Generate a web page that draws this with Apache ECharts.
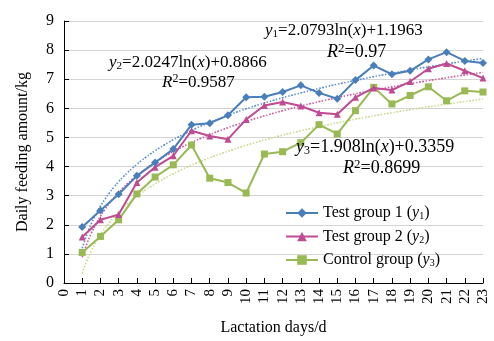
<!DOCTYPE html>
<html>
<head>
<meta charset="utf-8">
<script src="https://cdn.jsdelivr.net/npm/echarts@6/dist/echarts.min.js"></script>
<style>
  html, body { margin: 0; padding: 0; background: #fff; }
  #chart { width: 494px; height: 341px; }
</style>
</head>
<body>
<div id="chart"></div>
<script>
// lactation days 1..23
const days = [1, 2, 3, 4, 5, 6, 7, 8, 9, 10, 11, 12, 13, 14, 15, 16, 17, 18, 19, 20, 21, 22, 23];
const testGroup1 = [1.92, 2.49, 3.05, 3.68, 4.14, 4.6, 5.44, 5.49, 5.76, 6.38, 6.4, 6.56, 6.79, 6.53, 6.33, 6.97, 7.47, 7.17, 7.29, 7.68, 7.93, 7.63, 7.56];
const testGroup2 = [1.58, 2.17, 2.35, 3.45, 3.98, 4.37, 5.23, 5.05, 4.94, 5.62, 6.1, 6.22, 6.08, 5.85, 5.8, 6.38, 6.7, 6.63, 6.92, 7.36, 7.54, 7.29, 7.04];
const controlGroup = [1.05, 1.6, 2.17, 3.06, 3.64, 4.06, 4.74, 3.6, 3.45, 3.09, 4.43, 4.51, 4.82, 5.44, 5.12, 5.92, 6.72, 6.15, 6.44, 6.74, 6.26, 6.6, 6.56];

// fitted log trend coefficients printed on the chart: y = a*ln(x) + b
const trendA = [2.0793, 2.0247, 1.908];
const trendB = [1.1963, 0.8866, 0.3359];

const seriesNames = ['Test group 1 (y1)', 'Test group 2 (y2)', 'Control group (y3)'];
const legendLabels = {
  'Test group 1 (y1)': 'Test group 1 ({i|y}{s|1})',
  'Test group 2 (y2)': 'Test group 2 ({i|y}{s|2})',
  'Control group (y3)': 'Control group ({i|y}{s|3})'
};
const colors = ['#4a7ebb', '#be4b93', '#98b954'];
const trendColors = ['#5b8fcc', '#cc5c9c', '#c9d98e'];
const symbols = ['diamond', 'triangle', 'rect'];

const font = 'Liberation Serif, Times New Roman, serif';

function pairs(vals) {
  return days.map((d, i) => [d, vals[i]]);
}

function trendLine(k) {
  const pts = [];
  for (let x = 1; x <= 23.001; x += 0.25) {
    pts.push([x, trendA[k] * Math.log(x) + trendB[k]]);
  }
  return pts;
}

const groups = [testGroup1, testGroup2, controlGroup];

const series = [];
groups.forEach((vals, k) => {
  series.push({
    name: 'trend' + k,
    type: 'line',
    data: trendLine(k),
    showSymbol: false,
    smooth: true,
    silent: true,
    z: 1,
    lineStyle: { color: trendColors[k], width: 1.6, type: 'dotted' }
  });
});
groups.forEach((vals, k) => {
  series.push({
    name: seriesNames[k],
    type: 'line',
    data: pairs(vals),
    symbol: symbols[k],
    symbolSize: k === 0 ? 8 : 7,
    z: 3 - k + 2,
    itemStyle: { color: colors[k] },
    lineStyle: { color: colors[k], width: 2 }
  });
});

function richEq(fs) {
  const sm = Math.round(fs * 0.66);
  return {
    i: { fontFamily: font, fontSize: fs, fontStyle: 'italic', fill: '#000' },
    s: { fontFamily: font, fontSize: sm, fill: '#000', verticalAlign: 'bottom', padding: [Math.round(fs * 0.47), 0, 0, 0] },
    u: { fontFamily: font, fontSize: Math.round(fs * 0.7), fill: '#000', padding: [0, 0, Math.round(fs * 0.42), 0] },
    n: { fontFamily: font, fontSize: fs, fill: '#000' }
  };
}

function eqText(x, y, str, fs) {
  return {
    type: 'text',
    left: x,
    top: y,
    z: 10,
    style: { text: str, rich: richEq(fs), fontFamily: font, fontSize: fs, fill: '#000' }
  };
}

const option = {
  animation: false,
  backgroundColor: '#fff',
  grid: { left: 64, right: 11, top: 21, bottom: 58 },
  xAxis: {
    type: 'value',
    min: 0,
    max: 23,
    interval: 1,
    name: 'Lactation days/d',
    nameLocation: 'middle',
    nameGap: 37,
    nameTextStyle: { fontFamily: font, fontSize: 16, color: '#000' },
    axisLine: { lineStyle: { color: '#000', width: 1 } },
    axisTick: { inside: true, length: 5, lineStyle: { color: '#000' } },
    axisLabel: { rotate: 90, margin: 6, fontFamily: font, fontSize: 15, color: '#000' },
    splitLine: { show: false }
  },
  yAxis: {
    type: 'value',
    min: 0,
    max: 9,
    interval: 1,
    name: 'Daily feeding amount/kg',
    nameLocation: 'middle',
    nameGap: 33,
    nameTextStyle: { fontFamily: font, fontSize: 16, color: '#000' },
    axisLine: { show: true, lineStyle: { color: '#000', width: 1 } },
    axisTick: { show: true, inside: true, length: 5, lineStyle: { color: '#000' } },
    axisLabel: { margin: 10, fontFamily: font, fontSize: 16, color: '#000' },
    splitLine: { lineStyle: { color: '#d4d4d4', width: 1 } }
  },
  legend: {
    data: seriesNames,
    orient: 'vertical',
    left: 280,
    top: 200,
    itemGap: 7,
    itemWidth: 32,
    itemHeight: 12,
    formatter: name => legendLabels[name],
    textStyle: {
      fontFamily: font,
      fontSize: 16,
      color: '#000',
      rich: {
        i: { fontFamily: font, fontSize: 16, fontStyle: 'italic', color: '#000' },
        s: { fontFamily: font, fontSize: 10, color: '#000', verticalAlign: 'bottom', padding: [7, 0, 0, 0] }
      }
    }
  },
  graphic: [
    eqText(265, 22, '{i|y}{s|1}{n|=2.0793ln(}{i|x}{n|)+1.1963}', 17),
    eqText(327, 42, '{i|R}{u|2}{n|=0.97}', 18),
    eqText(109, 54, '{i|y}{s|2}{n|=2.0247ln(}{i|x}{n|)+0.8866}', 17),
    eqText(162, 73, '{i|R}{u|2}{n|=0.9587}', 17),
    eqText(296, 138, '{i|y}{s|3}{n|=1.908ln(}{i|x}{n|)+0.3359}', 18),
    eqText(343, 158, '{i|R}{u|2}{n|=0.8699}', 18)
  ],
  series: series
};

const chart = echarts.init(document.getElementById('chart'));
chart.setOption(option);
</script>
</body>
</html>
